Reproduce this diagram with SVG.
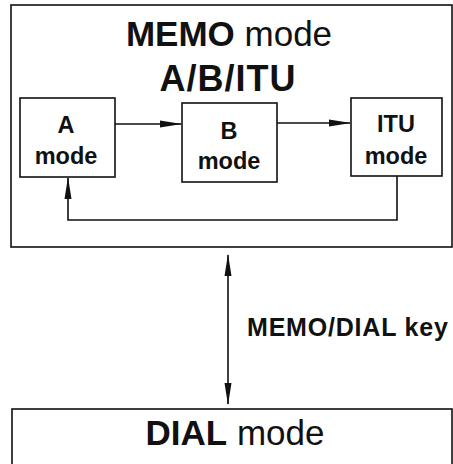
<svg xmlns="http://www.w3.org/2000/svg" width="453" height="464" viewBox="0 0 453 464">
<style>
.box{fill:#fff;stroke:#111;stroke-width:1.6}
.frame{fill:none;stroke:#111;stroke-width:1.6}
.lbl{font-family:"Liberation Sans",Arial,sans-serif;font-weight:bold;font-size:23.5px;fill:#111;text-anchor:middle}
.title{font-family:"Liberation Sans",Arial,sans-serif;font-size:35px;fill:#111;text-anchor:middle}
.b{font-weight:bold}
.con{fill:none;stroke:#111;stroke-width:1.6}
</style>
<defs>
<marker id="ah" markerUnits="userSpaceOnUse" markerWidth="22" markerHeight="9" refX="21" refY="4.5" orient="auto-start-reverse">
<path d="M0,1 L22,4.5 L0,8 z" fill="#111"/>
</marker>
</defs>
<rect width="453" height="464" fill="#fff"/>
<g id="memo-mode">
<rect class="frame" x="11" y="5" width="441" height="242"/>
<text class="title" x="229" y="46"><tspan class="b">MEMO</tspan> mode</text>
<text class="title b" x="228" y="91" style="font-size:36px;letter-spacing:1px">A/B/ITU</text>
</g>
<g id="a-mode">
<rect class="box" x="20" y="98" width="95" height="79"/>
<text class="lbl" x="66" y="133">A</text>
<text class="lbl" x="66" y="164">mode</text>
</g>
<g id="b-mode">
<rect class="box" x="182" y="103" width="95" height="79"/>
<text class="lbl" x="229" y="139">B</text>
<text class="lbl" x="229" y="169">mode</text>
</g>
<g id="itu-mode">
<rect class="box" x="351" y="98" width="91" height="78"/>
<text class="lbl" x="396" y="132">ITU</text>
<text class="lbl" x="396" y="164">mode</text>
</g>
<g id="dial-mode">
<rect class="frame" x="12" y="409" width="440" height="70"/>
<text class="title" x="235" y="445"><tspan class="b">DIAL</tspan> mode</text>
</g>
<g id="connectors">
<line class="con" x1="115" y1="124" x2="181" y2="124" marker-end="url(#ah)"/>
<line class="con" x1="277" y1="123" x2="350" y2="123" marker-end="url(#ah)"/>
<polyline class="con" points="397,176 397,220 68,220 68,178" marker-end="url(#ah)"/>
<line class="con" x1="228" y1="255" x2="228" y2="404" marker-start="url(#ah)" marker-end="url(#ah)"/>
<text class="lbl" x="247" y="336" style="text-anchor:start;font-size:25px;letter-spacing:0.8px">MEMO/DIAL key</text>
</g>
</svg>
